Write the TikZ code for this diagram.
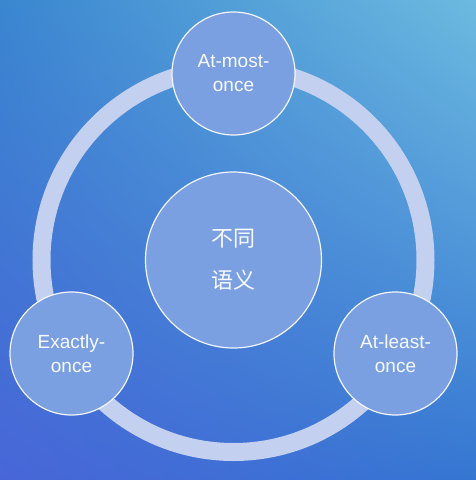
\documentclass[tikz,border=0pt]{standalone}
\usepackage{fontspec}
\usetikzlibrary{shadings}
\setmainfont{Liberation Sans}
\newfontfamily\cjk{Noto Sans CJK SC}
\definecolor{bgtl}{HTML}{3A86D0}
\definecolor{bgtr}{HTML}{6CBAE0}
\definecolor{bgbl}{HTML}{4866D8}
\definecolor{bgbr}{HTML}{3576D2}
\definecolor{ringcol}{HTML}{C3D0F0}
\definecolor{nodefill}{HTML}{7BA0E2}
\begin{document}
\begin{tikzpicture}[x=1pt,y=-1pt,
  sem/.style={circle,fill=nodefill,draw=white!90!nodefill,line width=1.2pt,
    text=white!95!nodefill,align=center,inner sep=0pt},
  kind/.style={sem,minimum size=123pt,font=\fontsize{19}{24}\selectfont}]
    \shade[upper left=bgtl,upper right=bgtr,lower left=bgbl,lower right=bgbr]
      (0,0) rectangle (476,480);
    \coordinate (o) at (233.5,260);
    \draw[ringcol,line width=18pt] (o) circle (192);

    \node[sem,minimum size=176pt,font=\cjk\fontsize{22}{42}\selectfont] (mid) at (o) {不同\\语义};
    \node[kind] (most) at (233.5,73.5) {At-most-\\once};
    \node[kind] (exactly) at (71.5,353.5) {Exactly-\\once};
    \node[kind] (least) at (395.5,353.5) {At-least-\\once};
\end{tikzpicture}
\end{document}
